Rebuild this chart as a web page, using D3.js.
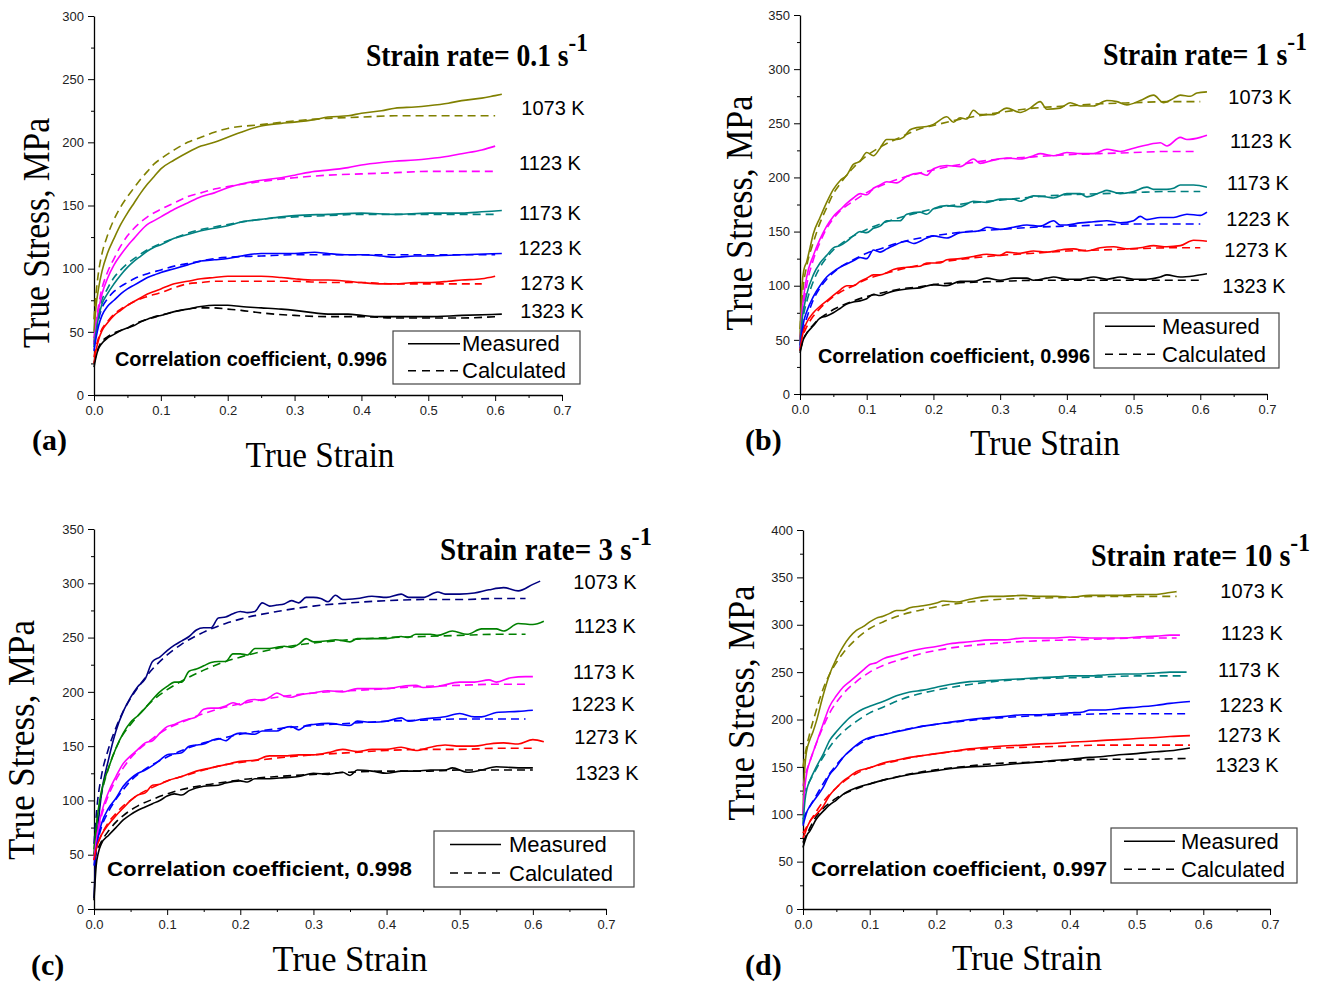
<!DOCTYPE html>
<html>
<head>
<meta charset="utf-8">
<script src="https://cdn.jsdelivr.net/npm/d3@7"></script>
<style>
  body { margin: 0; background: #fff; }
  .tick text { font-family: "Liberation Sans", Arial, sans-serif; font-size: 13px; fill: #222; }
</style>
</head>
<body>
<div id="chart"></div>
<script>
// ---- data: [true strain, true stress (MPa)] ----
var tempLabels = ["1073 K", "1123 K", "1173 K", "1223 K", "1273 K", "1323 K"];
var rateLabels = ["0.1", "1", "3", "10"];
var corrValues = ["0.996", "0.996", "0.998", "0.997"];
var panelLetters = ["(a)", "(b)", "(c)", "(d)"];
var strainTicks = [0, 0.1, 0.2, 0.3, 0.4, 0.5, 0.6, 0.7];

// (a) 0.1 s-1
var measA = [
  [[0,50],[0.003,70],[0.007,85],[0.012,98],[0.02,112],[0.03,124],[0.04,135],[0.05,144],[0.06,152],[0.07,160],[0.08,167],[0.09,173],[0.1,179],[0.12,186],[0.14,192],[0.16,197],[0.18,200],[0.2,204],[0.22,208],[0.25,213],[0.28,215],[0.3,216],[0.33,218],[0.35,220],[0.38,221],[0.4,223],[0.43,225],[0.45,227],[0.48,228],[0.5,229],[0.53,231],[0.55,233],[0.58,235],[0.6,237],[0.61,238]],
  [[0,40],[0.003,55],[0.007,68],[0.012,80],[0.02,92],[0.03,103],[0.04,111],[0.05,118],[0.06,124],[0.07,130],[0.08,135],[0.09,138],[0.1,141],[0.12,147],[0.14,152],[0.16,157],[0.18,160],[0.2,164],[0.22,167],[0.25,170],[0.28,172],[0.3,174],[0.33,177],[0.35,178],[0.38,180],[0.4,182],[0.43,184],[0.45,185],[0.48,186],[0.5,187],[0.53,189],[0.55,191],[0.58,194],[0.6,197]],
  [[0,38],[0.003,50],[0.007,62],[0.012,72],[0.02,80],[0.03,88],[0.04,95],[0.05,101],[0.06,106],[0.07,110],[0.08,114],[0.09,117],[0.1,119],[0.12,124],[0.14,127],[0.16,130],[0.18,132],[0.2,134],[0.22,137],[0.25,139],[0.28,141],[0.3,142],[0.35,143],[0.4,144],[0.45,143],[0.5,144],[0.55,144],[0.58,145],[0.61,146]],
  [[0,35],[0.003,45],[0.007,55],[0.012,63],[0.02,70],[0.03,75],[0.04,80],[0.05,84],[0.06,87],[0.07,90],[0.08,93],[0.09,95],[0.1,97],[0.12,100],[0.14,103],[0.16,106],[0.18,107],[0.2,108],[0.22,110],[0.25,112],[0.28,112],[0.3,112],[0.33,113],[0.35,112],[0.38,111],[0.4,111],[0.43,110],[0.45,109],[0.48,110],[0.5,110],[0.55,111],[0.61,112]],
  [[0,25],[0.003,35],[0.007,44],[0.012,51],[0.02,57],[0.03,63],[0.04,67],[0.05,71],[0.06,74],[0.07,77],[0.08,80],[0.09,82],[0.1,84],[0.12,88],[0.14,90],[0.16,92],[0.18,93],[0.2,94],[0.23,94],[0.25,94],[0.28,93],[0.3,92],[0.33,91],[0.35,91],[0.38,90],[0.4,89],[0.43,88],[0.45,88],[0.48,89],[0.5,89],[0.53,90],[0.55,91],[0.58,92],[0.6,94]],
  [[0,22],[0.003,30],[0.007,37],[0.012,41],[0.02,45],[0.03,48],[0.04,51],[0.05,53],[0.06,55],[0.07,58],[0.08,60],[0.09,62],[0.1,63],[0.12,66],[0.14,68],[0.16,70],[0.18,71],[0.2,71],[0.22,70],[0.25,69],[0.28,68],[0.3,67],[0.33,65],[0.35,64],[0.38,64],[0.4,63],[0.43,62],[0.45,62],[0.5,62],[0.55,63],[0.61,64]]
];
var calcA = [
  [[0,60],[0.003,80],[0.007,98],[0.012,112],[0.02,126],[0.03,139],[0.04,149],[0.05,157],[0.06,164],[0.07,171],[0.08,177],[0.09,183],[0.1,187],[0.12,194],[0.14,200],[0.16,204],[0.18,208],[0.2,211],[0.25,214],[0.3,217],[0.35,219],[0.4,220],[0.45,221],[0.5,221],[0.55,221],[0.6,221]],
  [[0,45],[0.005,65],[0.01,80],[0.02,97],[0.03,108],[0.04,118],[0.05,126],[0.06,132],[0.08,141],[0.1,147],[0.12,152],[0.14,157],[0.16,160],[0.18,163],[0.2,165],[0.25,169],[0.3,172],[0.35,174],[0.4,175],[0.45,176],[0.5,177],[0.55,177],[0.6,177]],
  [[0,42],[0.005,60],[0.01,72],[0.02,84],[0.03,93],[0.04,99],[0.05,104],[0.06,108],[0.08,115],[0.1,120],[0.12,124],[0.14,128],[0.16,131],[0.18,133],[0.2,135],[0.25,139],[0.3,141],[0.35,142],[0.4,143],[0.5,143],[0.6,143]],
  [[0,40],[0.005,55],[0.01,66],[0.02,76],[0.03,82],[0.04,86],[0.05,89],[0.06,92],[0.08,96],[0.1,99],[0.12,102],[0.14,104],[0.16,106],[0.18,108],[0.2,109],[0.25,110],[0.3,111],[0.35,111],[0.4,111],[0.5,111],[0.6,111]],
  [[0,30],[0.005,42],[0.01,50],[0.02,58],[0.03,64],[0.04,68],[0.05,71],[0.06,74],[0.08,78],[0.1,81],[0.12,85],[0.14,88],[0.16,89],[0.18,90],[0.2,90],[0.25,90],[0.3,90],[0.35,89],[0.4,89],[0.45,88],[0.5,88],[0.58,88]],
  [[0,25],[0.005,35],[0.01,41],[0.02,46],[0.03,49],[0.04,51],[0.05,53],[0.06,56],[0.08,60],[0.1,63],[0.12,66],[0.14,68],[0.16,69],[0.18,69],[0.2,68],[0.22,67],[0.25,65],[0.3,63],[0.35,62],[0.4,62],[0.45,61],[0.5,61],[0.55,61],[0.6,62]]
];

// (b) 1 s-1
var measB = [
  [[0,50],[0.003,100],[0.006,115],[0.01,122],[0.015,135],[0.02,148],[0.03,163],[0.04,177],[0.05,189],[0.06,197],[0.07,202],[0.08,212],[0.09,215],[0.1,223],[0.11,220],[0.12,227],[0.13,235],[0.145,235],[0.155,237],[0.165,244],[0.175,246],[0.19,247],[0.2,249],[0.22,256],[0.23,251],[0.24,255],[0.25,254],[0.26,262],[0.27,258],[0.29,258],[0.31,264],[0.33,260],[0.345,264],[0.36,270],[0.37,263],[0.39,264],[0.405,269],[0.42,266],[0.44,266],[0.46,271],[0.475,270],[0.49,267],[0.51,271],[0.53,276],[0.545,269],[0.56,273],[0.57,276],[0.585,275],[0.595,278],[0.61,279]],
  [[0,45],[0.003,75],[0.006,92],[0.01,108],[0.02,128],[0.03,143],[0.04,155],[0.05,164],[0.06,170],[0.07,176],[0.08,181],[0.09,185],[0.1,184],[0.11,190],[0.12,193],[0.13,196],[0.145,195],[0.16,201],[0.18,204],[0.19,202],[0.2,208],[0.22,211],[0.24,210],[0.26,217],[0.27,213],[0.29,216],[0.31,218],[0.33,217],[0.35,220],[0.36,222],[0.38,220],[0.4,223],[0.42,222],[0.44,222],[0.46,226],[0.48,224],[0.5,227],[0.52,230],[0.54,232],[0.55,229],[0.57,237],[0.58,235],[0.6,237],[0.61,239]],
  [[0,45],[0.003,68],[0.006,80],[0.01,92],[0.02,110],[0.03,121],[0.04,128],[0.05,135],[0.06,137],[0.07,141],[0.08,146],[0.09,150],[0.1,149],[0.11,153],[0.12,155],[0.13,160],[0.15,160],[0.16,166],[0.18,168],[0.19,166],[0.2,171],[0.22,174],[0.24,173],[0.26,178],[0.28,177],[0.3,180],[0.32,180],[0.33,178],[0.35,183],[0.37,182],[0.38,181],[0.4,185],[0.42,185],[0.43,182],[0.45,186],[0.46,188],[0.48,185],[0.5,187],[0.52,191],[0.53,189],[0.55,189],[0.56,190],[0.57,193],[0.59,193],[0.61,191]],
  [[0,42],[0.003,58],[0.006,68],[0.01,76],[0.02,90],[0.03,100],[0.04,108],[0.05,113],[0.06,117],[0.07,120],[0.08,123],[0.09,126],[0.1,125],[0.11,133],[0.12,131],[0.13,134],[0.14,137],[0.16,141],[0.17,139],[0.19,144],[0.2,146],[0.22,144],[0.24,149],[0.26,150],[0.27,151],[0.28,154],[0.3,152],[0.32,154],[0.34,156],[0.36,155],[0.38,160],[0.39,156],[0.4,156],[0.42,158],[0.44,159],[0.46,160],[0.48,158],[0.5,160],[0.51,164],[0.52,161],[0.54,163],[0.56,163],[0.58,166],[0.6,165],[0.61,168]],
  [[0,40],[0.003,52],[0.006,60],[0.01,66],[0.02,75],[0.03,81],[0.04,86],[0.05,91],[0.06,96],[0.07,100],[0.08,100],[0.09,104],[0.1,107],[0.11,110],[0.12,110],[0.13,112],[0.14,115],[0.16,117],[0.18,118],[0.19,121],[0.21,121],[0.22,124],[0.24,125],[0.26,127],[0.28,129],[0.3,128],[0.31,131],[0.33,130],[0.35,132],[0.37,131],[0.39,133],[0.41,134],[0.43,132],[0.45,135],[0.47,136],[0.49,134],[0.51,135],[0.53,137],[0.55,136],[0.57,137],[0.59,142],[0.61,141]],
  [[0,38],[0.003,46],[0.006,52],[0.01,56],[0.02,63],[0.03,70],[0.04,72],[0.05,75],[0.06,79],[0.07,83],[0.08,85],[0.09,86],[0.1,88],[0.11,92],[0.12,91],[0.13,93],[0.14,95],[0.16,97],[0.18,98],[0.2,101],[0.22,100],[0.24,104],[0.26,104],[0.28,107],[0.3,105],[0.32,107],[0.34,107],[0.35,105],[0.37,107],[0.38,108],[0.4,106],[0.42,106],[0.44,108],[0.46,106],[0.48,108],[0.5,106],[0.52,106],[0.54,108],[0.55,110],[0.57,108],[0.59,109],[0.61,111]]
];
var calcB = [
  [[0,60],[0.005,100],[0.01,118],[0.02,140],[0.03,158],[0.04,172],[0.05,185],[0.06,194],[0.08,209],[0.1,220],[0.12,228],[0.15,237],[0.18,245],[0.2,248],[0.25,255],[0.3,260],[0.35,264],[0.4,266],[0.45,268],[0.5,269],[0.55,270],[0.6,270]],
  [[0,50],[0.005,80],[0.01,100],[0.02,124],[0.03,140],[0.04,153],[0.05,162],[0.06,169],[0.08,178],[0.1,186],[0.12,192],[0.15,199],[0.18,204],[0.2,207],[0.25,213],[0.3,217],[0.35,219],[0.4,221],[0.45,222],[0.5,223],[0.55,224],[0.59,224]],
  [[0,50],[0.005,72],[0.01,85],[0.02,104],[0.03,117],[0.04,126],[0.05,133],[0.06,138],[0.08,146],[0.1,152],[0.12,157],[0.15,163],[0.18,168],[0.2,171],[0.25,176],[0.3,179],[0.35,182],[0.4,184],[0.45,185],[0.5,186],[0.55,187],[0.6,187]],
  [[0,45],[0.005,60],[0.01,70],[0.02,87],[0.03,98],[0.04,106],[0.05,112],[0.06,117],[0.08,124],[0.1,130],[0.12,134],[0.15,140],[0.18,144],[0.2,146],[0.25,150],[0.3,152],[0.35,154],[0.4,155],[0.45,156],[0.5,157],[0.55,157],[0.6,157]],
  [[0,45],[0.005,55],[0.01,62],[0.02,72],[0.03,79],[0.04,85],[0.05,90],[0.06,94],[0.08,100],[0.1,106],[0.12,110],[0.15,115],[0.18,119],[0.2,121],[0.25,125],[0.3,128],[0.35,130],[0.4,132],[0.45,133],[0.5,134],[0.55,135],[0.6,135]],
  [[0,40],[0.005,50],[0.01,56],[0.02,64],[0.03,70],[0.04,74],[0.05,78],[0.06,81],[0.08,86],[0.1,90],[0.12,93],[0.15,97],[0.18,99],[0.2,101],[0.25,103],[0.3,104],[0.35,105],[0.4,105],[0.5,105],[0.6,105]]
];

// (c) 3 s-1
var measC = [
  [[0,10],[0.003,55],[0.006,80],[0.01,105],[0.02,138],[0.03,164],[0.04,182],[0.05,195],[0.06,205],[0.07,212],[0.08,228],[0.09,232],[0.1,238],[0.11,243],[0.12,247],[0.13,251],[0.14,257],[0.15,259],[0.16,259],[0.17,268],[0.18,269],[0.19,272],[0.2,274],[0.21,273],[0.22,274],[0.23,282],[0.24,279],[0.25,280],[0.26,281],[0.27,284],[0.28,282],[0.29,287],[0.3,287],[0.31,286],[0.32,283],[0.33,289],[0.34,285],[0.36,286],[0.38,288],[0.4,287],[0.42,290],[0.43,287],[0.45,287],[0.47,292],[0.48,290],[0.5,290],[0.52,291],[0.54,294],[0.56,296],[0.58,293],[0.6,299],[0.61,302]],
  [[0,50],[0.003,75],[0.006,92],[0.01,108],[0.02,130],[0.03,148],[0.04,162],[0.05,172],[0.06,178],[0.07,185],[0.08,193],[0.09,200],[0.1,205],[0.11,209],[0.12,209],[0.13,219],[0.14,221],[0.15,224],[0.16,227],[0.17,228],[0.18,228],[0.19,235],[0.2,235],[0.21,234],[0.22,240],[0.24,240],[0.25,241],[0.26,242],[0.27,241],[0.28,244],[0.29,249],[0.3,246],[0.32,247],[0.33,248],[0.35,246],[0.36,249],[0.38,249],[0.4,249],[0.42,251],[0.43,250],[0.44,253],[0.46,253],[0.47,252],[0.49,256],[0.51,253],[0.53,258],[0.55,258],[0.56,256],[0.58,263],[0.6,262],[0.615,265]],
  [[0,45],[0.003,62],[0.006,75],[0.01,88],[0.02,108],[0.03,122],[0.04,134],[0.05,141],[0.06,147],[0.07,153],[0.08,155],[0.09,162],[0.1,168],[0.11,170],[0.12,173],[0.13,175],[0.14,177],[0.15,184],[0.16,185],[0.17,185],[0.18,187],[0.19,190],[0.2,188],[0.21,192],[0.22,193],[0.23,192],[0.24,195],[0.25,199],[0.26,196],[0.27,195],[0.28,197],[0.3,199],[0.32,201],[0.34,200],[0.36,203],[0.38,203],[0.4,203],[0.42,205],[0.44,206],[0.45,204],[0.47,205],[0.5,209],[0.52,209],[0.54,211],[0.55,209],[0.57,213],[0.59,214],[0.6,214]],
  [[0,40],[0.003,55],[0.006,67],[0.01,78],[0.02,93],[0.03,102],[0.04,113],[0.05,120],[0.06,125],[0.07,128],[0.08,132],[0.09,137],[0.1,142],[0.11,143],[0.12,144],[0.13,150],[0.14,151],[0.15,152],[0.16,155],[0.17,157],[0.18,155],[0.19,160],[0.2,162],[0.22,161],[0.23,164],[0.25,164],[0.26,167],[0.27,168],[0.28,165],[0.29,169],[0.3,170],[0.32,171],[0.35,169],[0.36,173],[0.38,172],[0.4,173],[0.42,176],[0.43,173],[0.45,175],[0.48,177],[0.5,180],[0.52,177],[0.53,177],[0.55,181],[0.58,182],[0.6,183]],
  [[0,45],[0.003,55],[0.006,62],[0.01,68],[0.02,78],[0.03,86],[0.04,93],[0.05,100],[0.06,105],[0.07,107],[0.08,114],[0.09,115],[0.1,118],[0.12,122],[0.14,127],[0.16,130],[0.18,133],[0.2,136],[0.22,137],[0.24,141],[0.26,141],[0.28,142],[0.3,142],[0.32,144],[0.34,147],[0.36,145],[0.38,147],[0.4,147],[0.42,149],[0.44,146],[0.46,149],[0.48,151],[0.5,150],[0.52,150],[0.54,152],[0.56,153],[0.58,152],[0.6,156],[0.615,154]],
  [[0,8],[0.003,40],[0.006,52],[0.01,60],[0.02,68],[0.03,75],[0.04,82],[0.05,87],[0.06,91],[0.07,94],[0.08,97],[0.09,100],[0.1,104],[0.11,106],[0.12,105],[0.13,109],[0.15,113],[0.17,114],[0.18,116],[0.2,118],[0.21,117],[0.22,120],[0.24,120],[0.26,121],[0.28,122],[0.3,125],[0.32,124],[0.34,126],[0.35,123],[0.36,128],[0.38,127],[0.4,125],[0.42,127],[0.44,127],[0.46,128],[0.48,128],[0.49,130],[0.51,126],[0.53,128],[0.55,131],[0.58,130],[0.6,130]]
];
var calcC = [
  [[0,60],[0.005,100],[0.01,122],[0.02,148],[0.03,167],[0.04,182],[0.05,194],[0.06,204],[0.08,221],[0.1,234],[0.12,244],[0.15,255],[0.18,263],[0.2,267],[0.25,274],[0.3,279],[0.35,282],[0.4,284],[0.45,285],[0.5,285],[0.55,286],[0.59,286]],
  [[0,55],[0.005,85],[0.01,105],[0.02,130],[0.03,148],[0.04,161],[0.05,170],[0.06,178],[0.08,192],[0.1,202],[0.12,210],[0.15,220],[0.18,228],[0.2,232],[0.25,240],[0.3,245],[0.35,248],[0.4,250],[0.45,251],[0.5,252],[0.55,253],[0.59,253]],
  [[0,50],[0.005,70],[0.01,85],[0.02,105],[0.03,119],[0.04,130],[0.05,139],[0.06,146],[0.08,157],[0.1,166],[0.12,172],[0.15,180],[0.18,186],[0.2,189],[0.25,195],[0.3,199],[0.35,201],[0.4,203],[0.45,205],[0.5,206],[0.55,207],[0.59,207]],
  [[0,45],[0.005,62],[0.01,75],[0.02,90],[0.03,101],[0.04,110],[0.05,118],[0.06,124],[0.08,133],[0.1,140],[0.12,146],[0.15,153],[0.18,158],[0.2,161],[0.25,166],[0.3,169],[0.35,171],[0.4,173],[0.45,174],[0.5,175],[0.55,175],[0.59,175]],
  [[0,50],[0.005,60],[0.01,68],[0.02,80],[0.03,88],[0.04,95],[0.05,100],[0.06,105],[0.08,112],[0.1,118],[0.12,122],[0.15,128],[0.18,133],[0.2,135],[0.25,139],[0.3,142],[0.35,144],[0.4,146],[0.45,147],[0.5,147],[0.55,148],[0.6,148]],
  [[0,45],[0.005,55],[0.01,62],[0.02,72],[0.03,80],[0.04,86],[0.05,91],[0.06,95],[0.08,101],[0.1,106],[0.12,110],[0.15,114],[0.18,117],[0.2,119],[0.25,122],[0.3,124],[0.35,126],[0.4,127],[0.45,127],[0.5,128],[0.55,128],[0.6,128]]
];

// (d) 10 s-1
var measD = [
  [[0,100],[0.002,140],[0.005,165],[0.01,178],[0.015,187],[0.02,198],[0.03,225],[0.04,248],[0.05,264],[0.06,277],[0.07,287],[0.08,294],[0.09,298],[0.1,303],[0.11,307],[0.12,309],[0.13,312],[0.14,315],[0.15,315],[0.16,318],[0.18,320],[0.2,323],[0.21,325],[0.23,324],[0.25,327],[0.28,330],[0.3,330],[0.33,331],[0.35,330],[0.38,330],[0.4,329],[0.43,331],[0.45,331],[0.48,331],[0.5,332],[0.53,332],[0.55,334],[0.56,335]],
  [[0,100],[0.003,130],[0.006,145],[0.01,155],[0.02,175],[0.03,195],[0.04,214],[0.05,225],[0.06,234],[0.07,240],[0.08,246],[0.09,252],[0.1,258],[0.11,260],[0.12,264],[0.14,268],[0.16,272],[0.18,275],[0.2,277],[0.22,280],[0.25,282],[0.28,284],[0.3,284],[0.33,286],[0.35,286],[0.38,286],[0.4,287],[0.43,286],[0.45,286],[0.48,286],[0.5,287],[0.53,288],[0.55,289],[0.565,289]],
  [[0,90],[0.003,115],[0.006,127],[0.01,135],[0.02,150],[0.03,163],[0.04,178],[0.05,187],[0.06,195],[0.07,202],[0.08,207],[0.09,211],[0.1,214],[0.12,219],[0.14,225],[0.16,229],[0.18,231],[0.2,234],[0.22,237],[0.25,240],[0.28,241],[0.3,242],[0.33,243],[0.35,244],[0.38,245],[0.4,246],[0.43,246],[0.45,247],[0.48,248],[0.5,248],[0.53,249],[0.55,250],[0.575,250]],
  [[0,88],[0.003,96],[0.006,103],[0.01,108],[0.02,118],[0.03,128],[0.04,142],[0.05,150],[0.06,160],[0.07,167],[0.08,173],[0.09,178],[0.1,181],[0.12,184],[0.14,187],[0.16,190],[0.18,193],[0.2,195],[0.22,197],[0.25,200],[0.28,202],[0.3,203],[0.33,205],[0.35,205],[0.38,206],[0.4,207],[0.42,208],[0.43,210],[0.45,210],[0.48,212],[0.5,213],[0.53,215],[0.55,217],[0.58,219]],
  [[0,75],[0.003,80],[0.006,86],[0.01,92],[0.02,100],[0.03,108],[0.04,120],[0.05,128],[0.06,135],[0.07,140],[0.08,145],[0.1,149],[0.12,154],[0.14,157],[0.16,160],[0.18,162],[0.2,164],[0.22,166],[0.25,169],[0.28,171],[0.3,172],[0.33,173],[0.35,174],[0.38,175],[0.4,176],[0.43,177],[0.45,178],[0.48,179],[0.5,180],[0.53,181],[0.55,182],[0.58,183]],
  [[0,65],[0.003,72],[0.006,78],[0.01,82],[0.02,95],[0.03,103],[0.04,110],[0.05,115],[0.06,121],[0.07,125],[0.08,128],[0.1,132],[0.12,136],[0.14,139],[0.16,142],[0.18,144],[0.2,146],[0.22,148],[0.25,150],[0.28,151],[0.3,152],[0.33,154],[0.35,155],[0.38,157],[0.4,158],[0.43,160],[0.45,161],[0.48,163],[0.5,164],[0.53,166],[0.55,167],[0.58,170]]
];
var calcD = [
  [[0,150],[0.005,170],[0.01,185],[0.02,210],[0.03,232],[0.04,248],[0.05,260],[0.06,270],[0.08,285],[0.1,296],[0.12,303],[0.15,311],[0.18,316],[0.2,319],[0.25,324],[0.3,327],[0.35,328],[0.4,329],[0.45,330],[0.5,330],[0.56,330]],
  [[0,130],[0.005,145],[0.01,155],[0.02,175],[0.03,192],[0.04,207],[0.05,218],[0.06,227],[0.08,240],[0.1,250],[0.12,257],[0.15,264],[0.18,270],[0.2,273],[0.25,278],[0.3,281],[0.35,283],[0.4,284],[0.45,285],[0.5,286],[0.56,286]],
  [[0,120],[0.005,128],[0.01,135],[0.02,148],[0.03,160],[0.04,171],[0.05,180],[0.06,187],[0.08,198],[0.1,207],[0.12,213],[0.15,222],[0.18,228],[0.2,231],[0.25,237],[0.3,241],[0.35,243],[0.4,244],[0.45,245],[0.5,246],[0.57,246]],
  [[0,95],[0.005,102],[0.01,108],[0.02,120],[0.03,132],[0.04,143],[0.05,152],[0.06,160],[0.08,172],[0.1,180],[0.12,184],[0.15,189],[0.18,193],[0.2,195],[0.25,199],[0.3,202],[0.35,204],[0.4,205],[0.45,206],[0.5,206],[0.58,206]],
  [[0,80],[0.005,86],[0.01,92],[0.02,103],[0.03,113],[0.04,121],[0.05,128],[0.06,134],[0.08,143],[0.1,149],[0.12,153],[0.15,158],[0.18,162],[0.2,164],[0.25,168],[0.3,170],[0.35,171],[0.4,172],[0.45,173],[0.5,173],[0.58,173]],
  [[0,70],[0.005,78],[0.01,85],[0.02,98],[0.03,106],[0.04,112],[0.05,117],[0.06,121],[0.08,127],[0.1,132],[0.12,136],[0.15,141],[0.18,145],[0.2,147],[0.25,151],[0.3,154],[0.35,155],[0.4,157],[0.45,158],[0.5,158],[0.58,159]]
];

var coloursMain = ["#808000", "#ff00ff", "#008080", "#0000ff", "#ff0000", "#000000"];
var coloursC = ["#000080", "#008000", "#ff00ff", "#0000ff", "#ff0000", "#000000"];

// ---- layout of the four panels (pixel positions on the page) ----
// legend: [x, y, w, h, line start, line end, text offset] relative to the box
var panels = [
  { meas: measA, calc: calcA, colours: coloursMain, yMax: 300,
    left: 94, right: 562, top: 16, bottom: 395,
    yTitle: [37, 233, 230], xTitle: [320, 455, 149], letter: [32, 450],
    rate: [366, 66, 222], temps: [[553,108],[550,163],[550,213],[550,248],[552,283],[552,311]],
    corr: [115, 366, 272], legend: [393, 331, 187, 53, 15, 67, 69] },
  { meas: measB, calc: calcB, colours: coloursMain, yMax: 350,
    left: 800, right: 1267, top: 15, bottom: 394,
    yTitle: [740, 213, 235], xTitle: [1045, 443, 150], letter: [745, 450],
    rate: [1103, 65, 204], temps: [[1260,97],[1261,141],[1258,183],[1258,219],[1256,250],[1254,286]],
    corr: [818, 363, 272], legend: [1094, 313, 185, 55, 11, 61, 68] },
  { meas: measC, calc: calcC, colours: coloursC, yMax: 350,
    left: 94, right: 606, top: 529, bottom: 909,
    yTitle: [22, 740, 240], xTitle: [350, 959, 155], letter: [31, 975],
    rate: [440, 560, 212], temps: [[605,582],[605,626],[604,672],[603,704],[606,737],[607,773]],
    corr: [107, 876, 305], legend: [434, 831, 200, 56, 16, 67, 75] },
  { meas: measD, calc: calcD, colours: coloursMain, yMax: 400,
    left: 803, right: 1270, top: 530, bottom: 909,
    yTitle: [742, 703, 235], xTitle: [1027, 958, 150], letter: [745, 975],
    rate: [1091, 566, 219], temps: [[1252,591],[1252,633],[1249,670],[1251,705],[1249,735],[1247,765]],
    corr: [811, 876, 296], legend: [1111, 828, 186, 55, 13, 64, 70] }
];

var svg = d3.select("#chart")
  .append("svg")
    .attr("width", 1324)
    .attr("height", 982);

var serif = "'Liberation Serif', 'Times New Roman', serif";
var sans = "'Liberation Sans', Arial, sans-serif";

// squeeze a text (or group) horizontally so that it spans the wanted width
function squeeze(g, x, y, rot, wanted) {
  var w = g.node().getBBox().width;
  g.attr("transform", "translate(" + x + "," + y + ")" + (rot ? " rotate(" + rot + ")" : "") +
    " scale(" + (wanted / w) + ",1)");
}

panels.forEach(function(p, k) {
  var x = d3.scaleLinear().domain([0, 0.7]).range([p.left, p.right]);
  var y = d3.scaleLinear().domain([0, p.yMax]).range([p.bottom, p.top]);

  // minor ticks
  svg.append("g")
    .attr("transform", "translate(0," + p.bottom + ")")
    .call(d3.axisBottom(x).tickValues(d3.range(0.05, 0.7, 0.1)).tickSize(3).tickFormat(""))
    .call(function(g) { g.select(".domain").remove(); });
  svg.append("g")
    .attr("transform", "translate(" + p.left + ",0)")
    .call(d3.axisLeft(y).tickValues(d3.range(25, p.yMax, 50)).tickSize(3).tickFormat(""))
    .call(function(g) { g.select(".domain").remove(); });

  // main axes
  svg.append("g")
    .attr("transform", "translate(0," + p.bottom + ")")
    .call(d3.axisBottom(x).tickValues(strainTicks).tickSize(6).tickSizeOuter(0).tickPadding(5).tickFormat(d3.format(".1f")))
    .call(function(g) { g.select(".domain").attr("stroke-width", 1.3); });
  svg.append("g")
    .attr("transform", "translate(" + p.left + ",0)")
    .call(d3.axisLeft(y).tickValues(d3.range(0, p.yMax + 1, 50)).tickSize(6).tickSizeOuter(0).tickPadding(4))
    .call(function(g) { g.select(".domain").attr("stroke-width", 1.3); });

  var line = d3.line()
    .x(function(d) { return x(d[0]); })
    .y(function(d) { return y(d[1]); })
    .curve(d3.curveMonotoneX);

  // calculated (dashed) then measured (solid)
  p.calc.forEach(function(c, i) {
    svg.append("path").datum(c)
      .attr("d", line)
      .attr("fill", "none")
      .attr("stroke", p.colours[i])
      .attr("stroke-width", 1.6)
      .attr("stroke-dasharray", "8,5");
  });
  p.meas.forEach(function(c, i) {
    svg.append("path").datum(c)
      .attr("d", line)
      .attr("fill", "none")
      .attr("stroke", p.colours[i])
      .attr("stroke-width", 1.6);
  });

  // temperature labels
  tempLabels.forEach(function(t, i) {
    svg.append("text")
      .attr("x", p.temps[i][0])
      .attr("y", p.temps[i][1])
      .attr("text-anchor", "middle")
      .attr("dominant-baseline", "central")
      .style("font-family", sans)
      .style("font-size", "20px")
      .text(t);
  });

  // axis titles
  var yt = svg.append("g");
  yt.append("text")
    .attr("text-anchor", "middle")
    .attr("dominant-baseline", "central")
    .style("font-family", serif)
    .style("font-size", "37px")
    .text("True Stress, MPa");
  squeeze(yt, p.yTitle[0], p.yTitle[1], -90, p.yTitle[2]);

  var xt = svg.append("g");
  xt.append("text")
    .attr("text-anchor", "middle")
    .attr("dominant-baseline", "central")
    .style("font-family", serif)
    .style("font-size", "35px")
    .text("True Strain");
  squeeze(xt, p.xTitle[0], p.xTitle[1], 0, p.xTitle[2]);

  // panel letter
  svg.append("text")
    .attr("x", p.letter[0])
    .attr("y", p.letter[1])
    .style("font-family", serif)
    .style("font-weight", "bold")
    .style("font-size", "30px")
    .text(panelLetters[k]);

  // strain rate title with superscript
  var rt = svg.append("g");
  var rtext = rt.append("text")
    .style("font-family", serif)
    .style("font-weight", "bold")
    .style("font-size", "31px");
  rtext.append("tspan").text("Strain rate= " + rateLabels[k] + " s");
  rtext.append("tspan").attr("dy", -15).style("font-size", "26px").text("-1");
  squeeze(rt, p.rate[0], p.rate[1], 0, p.rate[2]);

  // correlation coefficient
  svg.append("text")
    .attr("x", p.corr[0])
    .attr("y", p.corr[1])
    .attr("textLength", p.corr[2])
    .attr("lengthAdjust", "spacingAndGlyphs")
    .style("font-family", sans)
    .style("font-weight", "bold")
    .style("font-size", "20px")
    .text("Correlation coefficient, " + corrValues[k]);

  // legend
  var L = p.legend, lx = L[0], ly = L[1], lw = L[2], lh = L[3];
  svg.append("rect")
    .attr("x", lx).attr("y", ly).attr("width", lw).attr("height", lh)
    .attr("fill", "#fff")
    .attr("stroke", "#444")
    .attr("stroke-width", 1.2);
  [["Measured", null], ["Calculated", "8,6"]].forEach(function(e, j) {
    var cy = ly + lh * (j === 0 ? 0.24 : 0.75);
    svg.append("line")
      .attr("x1", lx + L[4]).attr("x2", lx + L[5])
      .attr("y1", cy).attr("y2", cy)
      .attr("stroke", "#000")
      .attr("stroke-width", 1.6)
      .attr("stroke-dasharray", e[1]);
    svg.append("text")
      .attr("x", lx + L[6])
      .attr("y", cy)
      .attr("dominant-baseline", "central")
      .style("font-family", sans)
      .style("font-size", "22px")
      .text(e[0]);
  });
});
</script>
</body>
</html>
